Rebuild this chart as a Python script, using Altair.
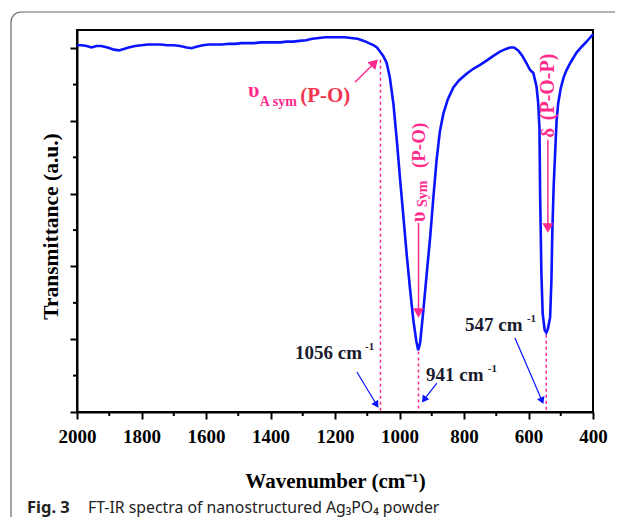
import altair as alt
import pandas as pd

# ---------------- data ----------------
wavenumber = [2000, 1985, 1970, 1955, 1940, 1925, 1905, 1885, 1870, 1855, 1840, 1820, 1800,
              1780, 1760, 1740, 1720, 1700, 1680, 1660, 1645, 1630, 1610, 1590, 1570, 1550,
              1530, 1510, 1490, 1470, 1450, 1430, 1410, 1390, 1370, 1350, 1330, 1310, 1290,
              1270, 1250, 1230, 1210, 1190, 1170, 1150, 1130, 1110, 1095, 1080, 1070, 1060,
              1050, 1040, 1030, 1019, 1008, 998, 988, 978, 968, 957, 948, 942, 936, 926, 916,
              905, 895, 885, 875, 864, 850, 833, 815, 792, 770, 750, 730, 710, 690, 670, 657,
              645, 632, 620, 606, 595, 585, 575, 570, 566, 564, 560, 556, 550, 545, 540, 533,
              529, 526, 522, 518, 513, 508, 500, 491, 482, 470, 451, 435, 420, 410, 400]
transmittance = [5.04, 5.04, 5.03, 5.01, 5.03, 5.03, 5.01, 4.98, 4.97, 4.99, 5.01, 5.03, 5.04,
                 5.05, 5.05, 5.05, 5.04, 5.04, 5.03, 5.01, 5.00, 5.02, 5.04, 5.05, 5.05, 5.05,
                 5.06, 5.06, 5.07, 5.07, 5.07, 5.08, 5.08, 5.08, 5.08, 5.09, 5.09, 5.10, 5.11,
                 5.13, 5.14, 5.15, 5.15, 5.15, 5.15, 5.14, 5.13, 5.10, 5.07, 5.04, 5.01, 4.95,
                 4.89, 4.80, 4.60, 4.24, 3.72, 3.19, 2.69, 2.18, 1.72, 1.26, 0.98, 0.85, 0.95,
                 1.40, 1.88, 2.40, 2.95, 3.46, 3.85, 4.10, 4.30, 4.46, 4.56, 4.65, 4.72, 4.77,
                 4.83, 4.89, 4.95, 4.99, 5.01, 5.01, 4.97, 4.90, 4.79, 4.70, 4.66, 4.47, 4.25,
                 3.90, 3.00, 1.90, 1.35, 1.13, 1.09, 1.14, 1.30, 1.80, 2.50, 3.10, 3.50, 4.00,
                 4.24, 4.45, 4.60, 4.70, 4.80, 4.94, 5.02, 5.09, 5.14, 5.19]

x_major = [2000, 1800, 1600, 1400, 1200, 1000, 800, 600, 400]
x_minor = [1900, 1700, 1500, 1300, 1100, 900, 700, 500]
y_major = [0, 1, 2, 3, 4, 5]
y_minor = [0.5, 1.5, 2.5, 3.5, 4.5]

# peak marker (pink dashed) lines
dash_wn = [1059, 941, 545]
dash_top = [4.84, 0.83, 1.06]

# peak value labels
num_text = ["1056 cm", "941 cm", "547 cm"]
num_wn = [1324, 918, 797]
num_t = [0.728, 0.426, 1.113]
sup_wn = [1107, 726, 605]
sup_t = [0.852, 0.549, 1.236]

# blue arrows: tail -> head
blue_wn = [1132, 884, 642]
blue_t = [0.549, 0.398, 1.016]
blue_wn2 = [1071, 924, 558]
blue_t2 = [0.10, 0.169, 0.154]
blue_ang = [148, 215, 157]

# pink arrows: tail -> head
pink_wn = [1138, 941, 540]
pink_t = [4.533, 2.60, 3.74]
pink_wn2 = [1077, 941, 540]
pink_t2 = [4.80, 1.36, 2.53]
pink_ang = [45, 180, 180]

BLUE = "#0a14ff"
PINK = "#ff2a8c"
RED = "#f2364f"
DARK = "#1b1b2f"
SERIF = "Liberation Serif"

# ---------------- scales / axes ----------------
xscale = alt.Scale(domain=[2000, 400], nice=False, zero=False)
yscale = alt.Scale(domain=[0, 5.25], nice=False, zero=False)

xaxis = alt.Axis(values=x_major, format="d", tickSize=7, tickWidth=2, domainWidth=2,
                 domainColor="black", tickColor="black", labelFont=SERIF,
                 labelFontWeight="bold", labelFontSize=19, labelColor="black",
                 labelPadding=23, labelBaseline="alphabetic", labelFlush=False,
                 labelOverlap=False, grid=False, title="Wavenumber (cm\u207b\u00b9)",
                 titleFont=SERIF, titleFontSize=21, titleFontWeight="bold",
                 titleColor="black", titleY=75, titleBaseline="alphabetic")
yaxis = alt.Axis(values=y_major, labels=False, tickSize=7, tickWidth=2, domainWidth=2,
                 domainColor="black", tickColor="black", grid=False,
                 title="Transmittance (a.u.)", titleFont=SERIF, titleFontSize=21.5,
                 titleFontWeight="bold", titleColor="black", titleX=-20, titleY=196,
                 titleAngle=270, titleAlign="center", titleBaseline="alphabetic")

X = alt.X("wn:Q", scale=xscale, axis=xaxis)
Y = alt.Y("T:Q", scale=yscale, axis=yaxis)

spec = pd.DataFrame({"wn": wavenumber, "T": transmittance})
line = alt.Chart(spec).mark_line(color=BLUE, strokeWidth=2.6).encode(x=X, y=Y)

xmin_df = pd.DataFrame({"wn": x_minor})
xminor = alt.Chart(xmin_df).mark_rule(color="black", strokeWidth=2).encode(
    x=X, y=alt.value(382), y2=alt.value(386))
ymin_df = pd.DataFrame({"T": y_minor})
yminor = alt.Chart(ymin_df).mark_rule(color="black", strokeWidth=2).encode(
    y=Y, x=alt.value(-4), x2=alt.value(0))

dash_df = pd.DataFrame({"wn": dash_wn, "T": dash_top, "T2": [0, 0, 0]})
dashes = alt.Chart(dash_df).mark_rule(color=PINK, strokeWidth=1.5, strokeDash=[3, 3]).encode(
    x=X, y=Y, y2="T2:Q")

blue_df = pd.DataFrame({"wn": blue_wn, "T": blue_t, "wn2": blue_wn2, "T2": blue_t2,
                        "ang": blue_ang})
blue_lines = alt.Chart(blue_df).mark_rule(color=BLUE, strokeWidth=1.2).encode(
    x=X, y=Y, x2="wn2:Q", y2="T2:Q")
blue_heads = alt.Chart(blue_df).mark_point(shape="triangle-up", filled=True, opacity=1,
                                           color=BLUE, size=64).encode(
    x=alt.X("wn2:Q", scale=xscale, axis=xaxis), y=alt.Y("T2:Q", scale=yscale, axis=yaxis),
    angle=alt.Angle("ang:Q", scale=None))

pink_df = pd.DataFrame({"wn": pink_wn, "T": pink_t, "wn2": pink_wn2, "T2": pink_t2,
                        "ang": pink_ang})
pink_lines = alt.Chart(pink_df).mark_rule(color=PINK, strokeWidth=1.5).encode(
    x=X, y=Y, x2="wn2:Q", y2="T2:Q")
pink_heads = alt.Chart(pink_df).mark_point(shape="triangle-up", filled=True, opacity=1,
                                           color=PINK, size=120).encode(
    x=alt.X("wn2:Q", scale=xscale, axis=xaxis), y=alt.Y("T2:Q", scale=yscale, axis=yaxis),
    angle=alt.Angle("ang:Q", scale=None))

num_df = pd.DataFrame({"wn": num_wn, "T": num_t, "txt": num_text})
nums = alt.Chart(num_df).mark_text(font=SERIF, fontWeight="bold", fontSize=19, color=DARK,
                                   align="left", baseline="alphabetic").encode(
    x=X, y=Y, text="txt:N")
sup_df = pd.DataFrame({"wn": sup_wn, "T": sup_t, "txt": ["-1", "-1", "-1"]})
sups = alt.Chart(sup_df).mark_text(font=SERIF, fontWeight="bold", fontSize=11, color=DARK,
                                   align="left", baseline="alphabetic").encode(
    x=X, y=Y, text="txt:N")


def label(txt, wn, t, size, color, angle=0, baseline="alphabetic"):
    d = pd.DataFrame({"wn": [wn], "T": [t], "txt": [txt]})
    return alt.Chart(d).mark_text(font=SERIF, fontWeight="bold", fontSize=size,
                                  color=color, align="left", baseline=baseline,
                                  angle=angle).encode(x=X, y=Y, text="txt:N")


# asymmetric stretch label (horizontal)
asym = [label("\u03c5", 1470, 4.327, 22, PINK),
        label("A sym", 1433, 4.203, 14, PINK),
        label("(P-O)", 1308, 4.258, 21, RED)]
# symmetric stretch label (vertical)
sym = [label("\u03c5", 941, 2.61, 20, PINK, 270, "middle"),
       label("Sym", 927, 2.816, 14, PINK, 270, "middle"),
       label("(P-O)", 941, 3.352, 19, PINK, 270, "middle")]
# bending label (vertical)
dlt = [label("\u03b4", 539, 3.77, 19, PINK, 270, "middle"),
       label("(P-O-P)", 539, 4.01, 20, PINK, 270, "middle")]

# caption and frame
one = pd.DataFrame({"a": [0]})
cap1 = alt.Chart(one).mark_text(text="Fig. 3", font="Noto Sans", fontWeight="bold",
                                fontSize=16.5, color="#222", align="left",
                                baseline="alphabetic").encode(x=alt.value(-50), y=alt.value(483))
cap2 = alt.Chart(one).mark_text(text="FT-IR spectra of nanostructured Ag\u2083PO\u2084 powder",
                                font="Noto Sans", fontSize=15.8, color="#222", align="left",
                                baseline="alphabetic").encode(x=alt.value(11), y=alt.value(483))
border = alt.Chart(one).mark_rect(fillOpacity=0, stroke="#666666", strokeWidth=1.2,
                                  cornerRadiusTopLeft=10, cornerRadiusBottomLeft=10).encode(
    x=alt.value(-66), x2=alt.value(1200), y=alt.value(-18), y2=alt.value(900))

chart = alt.layer(
    border, dashes, line, xminor, yminor, blue_lines, blue_heads, pink_lines, pink_heads,
    nums, sups, *asym, *sym, *dlt, cap1, cap2
).properties(
    width=516, height=382,
    autosize=alt.AutoSizeParams(type="none"),
    padding={"left": 69, "top": 22, "right": 22, "bottom": 105},
).configure_view(stroke="black", strokeWidth=2)

chart.save("out.html", embed_options={"renderer": "svg", "actions": False})
